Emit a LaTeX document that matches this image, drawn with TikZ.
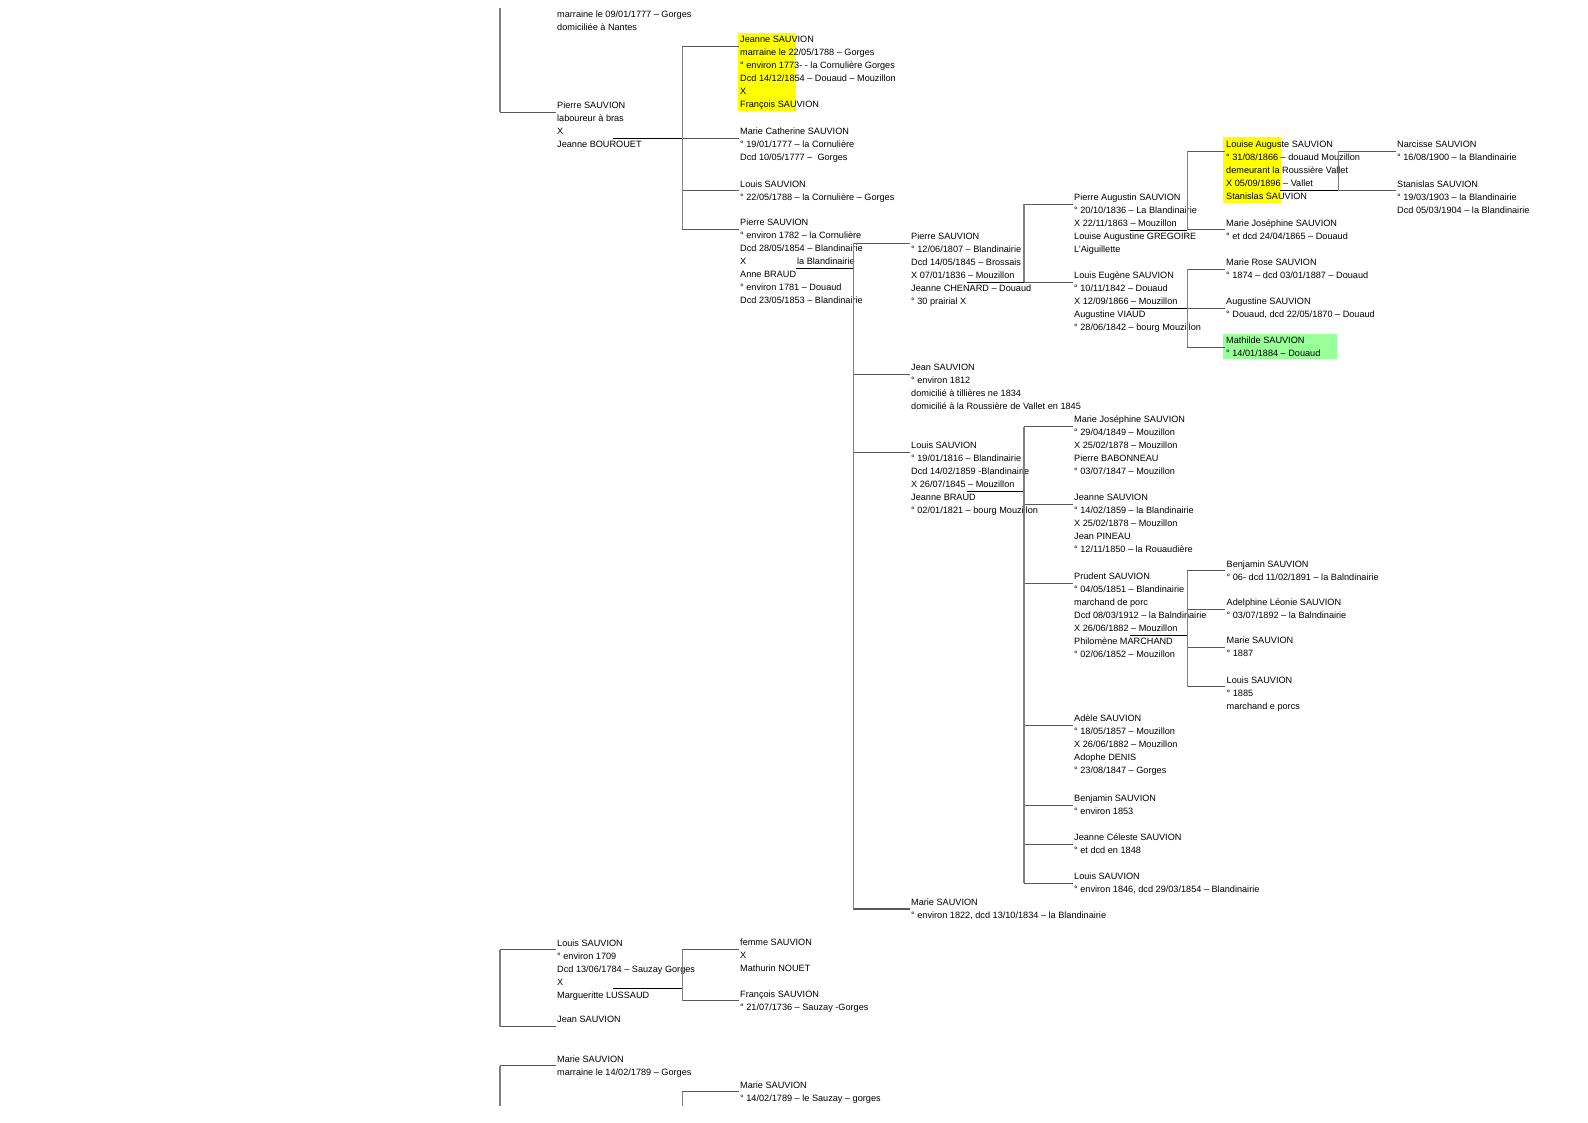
\documentclass[tikz,border=0pt]{standalone}
\usepackage{fontspec}
\setmainfont{Liberation Sans}
\usetikzlibrary{calc,backgrounds}
\definecolor{hlyellow}{RGB}{255,255,0}
\definecolor{hlgreen}{RGB}{153,255,153}
\newcommand{\kid}[2]{%
  \path ($(#2.north west)+(-1.5,10.5)$) coordinate (#2-in);
  \draw[kid] (#1 |- #2-in) -- (#2-in);}
\newcommand{\spouse}[4]{%
  \path ($(#1.north west)+(#3,#4)$) coordinate (#1-x);
  \draw[couple] (#1-x) -- (#2 |- #1-x);}

\begin{document}
\begin{tikzpicture}[x=1pt,y=-1pt,
  person/.style={anchor=north west, inner sep=0pt, align=left, font=\fontsize{9.15}{13}\selectfont},
  kid/.style={draw=black!65, line width=1.2pt},
  couple/.style={draw=black, line width=0.8pt},
  bracket/.style={draw=black!50, line width=1.6pt}]
  \useasboundingbox (0,0) rectangle (1588,1123);

  \coordinate (v0) at (500,0);
  \coordinate (v1) at (682.3,0);
  \coordinate (v2) at (853.3,0);
  \coordinate (v3) at (1024,0);
  \coordinate (v4) at (1187.3,0);
  \coordinate (v5) at (1338.3,0);
  \coordinate (top) at (0,8);
  \coordinate (bot) at (0,1106);

  \node[person] (t0)      at (557,11)     {marraine le 09/01/1777 – Gorges\\domiciliée à Nantes};
  \node[person] (pierre0) at (557,101.7)  {Pierre SAUVION\\laboureur à bras\\X\\Jeanne BOUROUET};
  \node[person] (louis0)  at (557,939.3)  {Louis SAUVION\\° environ 1709\\Dcd 13/06/1784 – Sauzay Gorges\\X\\Margueritte LUSSAUD};
  \node[person] (jean0)   at (557,1016.3) {Jean SAUVION};
  \node[person] (marie0)  at (557,1055.3) {Marie SAUVION\\marraine le 14/02/1789 – Gorges};

  \node[person] (jeanne1) at (740,36.3)   {Jeanne SAUVION\\marraine le 22/05/1788 – Gorges\\° environ 1773- - la Cornulière Gorges\\Dcd 14/12/1854 – Douaud – Mouzillon\\X\\François SAUVION};
  \node[person] (marie1)  at (740,127.7)  {Marie Catherine SAUVION\\° 19/01/1777 – la Cornulière\\Dcd 10/05/1777 – \ Gorges};
  \node[person] (louis1)  at (740,180.3)  {Louis SAUVION\\° 22/05/1788 – la Cornulière – Gorges};
  \node[person] (pierre1) at (740,218.7)  {Pierre SAUVION\\° environ 1782 – la Cornulière\\Dcd 28/05/1854 – Blandinairie\\\makebox[57pt][l]{X}la Blandinairie\\Anne BRAUD\\° environ 1781 – Douaud\\Dcd 23/05/1853 – Blandinairie};
  \node[person] (femme1)  at (740,939)    {femme SAUVION\\X\\Mathurin NOUET};
  \node[person] (fran1)   at (740,990.3)  {François SAUVION\\° 21/07/1736 – Sauzay -Gorges};
  \node[person] (marie1b) at (740,1081.3) {Marie SAUVION\\° 14/02/1789 – le Sauzay – gorges};

  \node[person] (pierre2) at (911,232.7)  {Pierre SAUVION\\° 12/06/1807 – Blandinairie\\Dcd 14/05/1845 – Brossais\\X 07/01/1836 – Mouzillon\\Jeanne CHENARD – Douaud\\° 30 prairial X};
  \node[person] (jean2)   at (911,363.7)  {Jean SAUVION\\° environ 1812\\domicilié à tillières ne 1834\\domicilié à la Roussière de Vallet en 1845};
  \node[person] (louis2)  at (911,442)    {Louis SAUVION\\° 19/01/1816 – Blandinairie\\Dcd 14/02/1859 -Blandinairie\\X 26/07/1845 – Mouzillon\\Jeanne BRAUD\\° 02/01/1821 – bourg Mouzillon};
  \node[person] (marie2)  at (911,898.4)  {Marie SAUVION\\° environ 1822, dcd 13/10/1834 – la Blandinairie};

  \node[person] (paug3)   at (1074,193.7) {Pierre Augustin SAUVION\\° 20/10/1836 – La Blandinairie\\X 22/11/1863 – Mouzillon\\Louise Augustine GREGOIRE\\L'Aiguillette};
  \node[person] (leug3)   at (1074,272)   {Louis Eugène SAUVION\\° 10/11/1842 – Douaud\\X 12/09/1866 – Mouzillon\\Augustine VIAUD\\° 28/06/1842 – bourg Mouzillon};
  \node[person] (mjos3)   at (1074,416)   {Marie Joséphine SAUVION\\° 29/04/1849 – Mouzillon\\X 25/02/1878 – Mouzillon\\Pierre BABONNEAU\\° 03/07/1847 – Mouzillon};
  \node[person] (jean3)   at (1074,493.7) {Jeanne SAUVION\\° 14/02/1859 – la Blandinairie\\X 25/02/1878 – Mouzillon\\Jean PINEAU\\° 12/11/1850 – la Rouaudière};
  \node[person] (prud3)   at (1074,572.7) {Prudent SAUVION\\° 04/05/1851 – Blandinairie\\marchand de porc\\Dcd 08/03/1912 – la Balndinairie\\X 26/06/1882 – Mouzillon\\Philomène MARCHAND\\° 02/06/1852 – Mouzillon};
  \node[person] (adel3)   at (1074,714.7) {Adèle SAUVION\\° 18/05/1857 – Mouzillon\\X 26/06/1882 – Mouzillon\\Adophe DENIS\\° 23/08/1847 – Gorges};
  \node[person] (benj3)   at (1074,794.7) {Benjamin SAUVION\\° environ 1853};
  \node[person] (jcel3)   at (1074,833.7) {Jeanne Céleste SAUVION\\° et dcd en 1848};
  \node[person] (louis3)  at (1074,872.7) {Louis SAUVION\\° environ 1846, dcd 29/03/1854 – Blandinairie};

  \node[person] (lou4)    at (1226,141)   {Louise Auguste SAUVION\\° 31/08/1866 – douaud Mouzillon\\demeurant la Roussière Vallet\\X 05/09/1896 – Vallet\\Stanislas SAUVION};
  \node[person] (mjos4)   at (1226,219.3) {Marie Joséphine SAUVION\\° et dcd 24/04/1865 – Douaud};
  \node[person] (mrose4)  at (1226,258.7) {Marie Rose SAUVION\\° 1874 – dcd 03/01/1887 – Douaud};
  \node[person] (aug4)    at (1226,297.7) {Augustine SAUVION\\° Douaud, dcd 22/05/1870 – Douaud};
  \node[person] (math4)   at (1226,337)   {Mathilde SAUVION\\° 14/01/1884 – Douaud};
  \node[person] (benj4)   at (1226.5,560.3) {Benjamin SAUVION\\° 06- dcd 11/02/1891 – la Balndinairie};
  \node[person] (adl4)    at (1226.5,598.7) {Adelphine Léonie SAUVION\\° 03/07/1892 – la Balndinairie};
  \node[person] (mar4)    at (1226.5,637)   {Marie SAUVION\\° 1887};
  \node[person] (lou4b)   at (1226.5,676.3) {Louis SAUVION\\° 1885\\marchand e porcs};

  \node[person] (narc5)   at (1397,141)   {Narcisse SAUVION\\° 16/08/1900 – la Blandinairie};
  \node[person] (stan5)   at (1397,180.3) {Stanislas SAUVION\\° 19/03/1903 – la Blandinairie\\Dcd 05/03/1904 – la Blandinairie};

  \begin{scope}[on background layer]
    \fill[hlyellow] ($(jeanne1.north west)+(-2.3,-3.6)$) rectangle ($(jeanne1.north west)+(56,74.7)$);
    \fill[hlyellow] ($(lou4.north west)+(-3,-3.7)$) rectangle ($(lou4.north west)+(55,61.7)$);
    \fill[hlgreen] ($(math4.north west)+(-3,-3)$) rectangle ($(math4.north west)+(111,22.5)$);
  \end{scope}

  \kid{v0}{pierre0}
  \kid{v0}{louis0}
  \kid{v0}{jean0}
  \kid{v0}{marie0}
  \kid{v1}{jeanne1}
  \kid{v1}{marie1}
  \kid{v1}{louis1}
  \kid{v1}{pierre1}
  \kid{v1}{femme1}
  \kid{v1}{fran1}
  \kid{v1}{marie1b}
  \kid{v2}{pierre2}
  \kid{v2}{jean2}
  \kid{v2}{louis2}
  \kid{v2}{marie2}
  \kid{v3}{paug3}
  \kid{v3}{leug3}
  \kid{v3}{mjos3}
  \kid{v3}{jean3}
  \kid{v3}{prud3}
  \kid{v3}{adel3}
  \kid{v3}{benj3}
  \kid{v3}{jcel3}
  \kid{v3}{louis3}
  \kid{v4}{lou4}
  \kid{v4}{mjos4}
  \kid{v4}{mrose4}
  \kid{v4}{aug4}
  \kid{v4}{math4}
  \kid{v4}{benj4}
  \kid{v4}{adl4}
  \kid{v4}{mar4}
  \kid{v4}{lou4b}
  \kid{v5}{narc5}
  \kid{v5}{stan5}

  \spouse{pierre0}{v1}{56}{36.5}
  \spouse{pierre1}{v2}{56}{50}
  \spouse{pierre2}{v3}{56}{49.5}
  \spouse{louis2}{v3}{56}{49.5}
  \spouse{paug3}{v4}{56}{36.5}
  \spouse{leug3}{v4}{56}{36.5}
  \spouse{prud3}{v4}{56}{62.5}
  \spouse{lou4}{v5}{54}{49.5}
  \spouse{louis0}{v1}{56}{49}

  \draw[bracket] (v0 |- top) -- (v0 |- pierre0-in);
  \draw[bracket] (v1 |- jeanne1-in) -- (v1 |- pierre1-in);
  \draw[bracket] (v2 |- pierre2-in) -- (v2 |- marie2-in);
  \draw[bracket] (v3 |- paug3-in) -- (v3 |- leug3-in);
  \draw[bracket] (v3 |- mjos3-in) -- (v3 |- louis3-in);
  \draw[bracket] (v4 |- lou4-in) -- (v4 |- mjos4-in);
  \draw[bracket] (v4 |- mrose4-in) -- (v4 |- math4-in);
  \draw[bracket] (v4 |- benj4-in) -- (v4 |- lou4b-in);
  \draw[bracket] (v5 |- narc5-in) -- (v5 |- stan5-in);
  \draw[bracket] (v0 |- louis0-in) -- (v0 |- jean0-in);
  \draw[bracket] (v0 |- marie0-in) -- (v0 |- bot);
  \draw[bracket] (v1 |- femme1-in) -- (v1 |- fran1-in);
  \draw[bracket] (v1 |- marie1b-in) -- (v1 |- bot);
\end{tikzpicture}
\end{document}
